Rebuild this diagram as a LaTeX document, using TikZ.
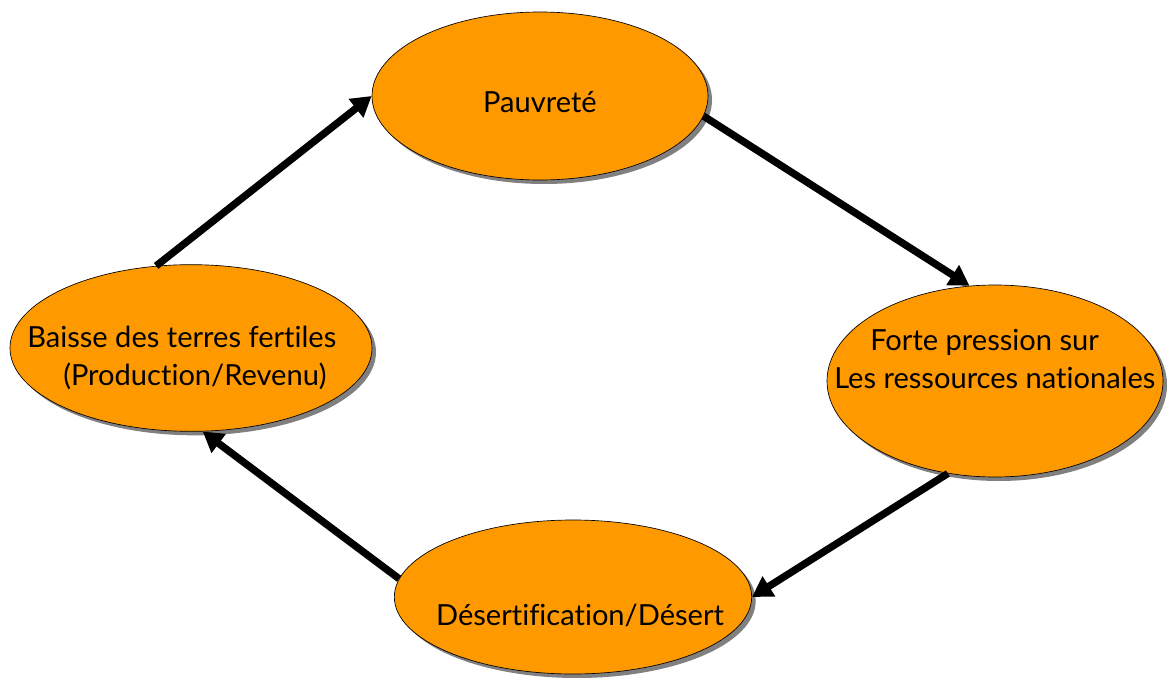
\documentclass[tikz,border=0pt]{standalone}
\usepackage{fontspec}
\setmainfont{Lato}[Ligatures=NoCommon]
\usepackage{xcolor}
\usepackage{tikz}
\usetikzlibrary{shapes.geometric,arrows.meta,shadows}

\definecolor{cycleorange}{HTML}{FF9900}

\begin{document}
\begin{tikzpicture}[
    x=0.75pt, y=-0.75pt,
    cell/.style={ellipse, draw=black, line width=0.5pt, fill=cycleorange, inner sep=0pt,
        drop shadow={shadow xshift=3pt, shadow yshift=-3pt, fill=gray, opacity=1}},
    txt/.style={font=\fontsize{21.8}{28}\selectfont, inner sep=0pt},
    arrow/.style={-{Triangle[length=15pt, width=17pt]}, line width=5.5pt, black}
]
    \useasboundingbox (0,0) rectangle (1168,678);

    \node[cell, minimum width=252pt, minimum height=126pt] (pauvrete) at (540,96) {};
    \node[cell, minimum width=271.5pt, minimum height=125pt] (baisse) at (191,348) {};
    \node[cell, minimum width=252pt, minimum height=144pt] (pression) at (995,381) {};
    \node[cell, minimum width=268pt, minimum height=115.5pt] (desert) at (573,597) {};

    \node[txt] (pauvrete-t) at (540,102) {Pauvreté};
    \node[txt, anchor=west, align=left] (baisse-t) at (27,358)
        {Baisse des terres fertiles\\\hspace*{27pt}(Production/Revenu)};
    \node[txt, anchor=west, align=left] (pression-t) at (834,359)
        {\hspace*{27pt}Forte pression sur\\Les ressources nationales};
    \node[txt] (desert-t) at (580,615) {Désertification/Désert};

    \draw[arrow] (baisse.113) -- (pauvrete.west);
    \draw[arrow] (pauvrete.-7) -- (pression.105);
    \draw[arrow] (pression.243) -- (desert.east);
    \draw[arrow] (desert.174) -- (baisse.278);
\end{tikzpicture}
\end{document}
